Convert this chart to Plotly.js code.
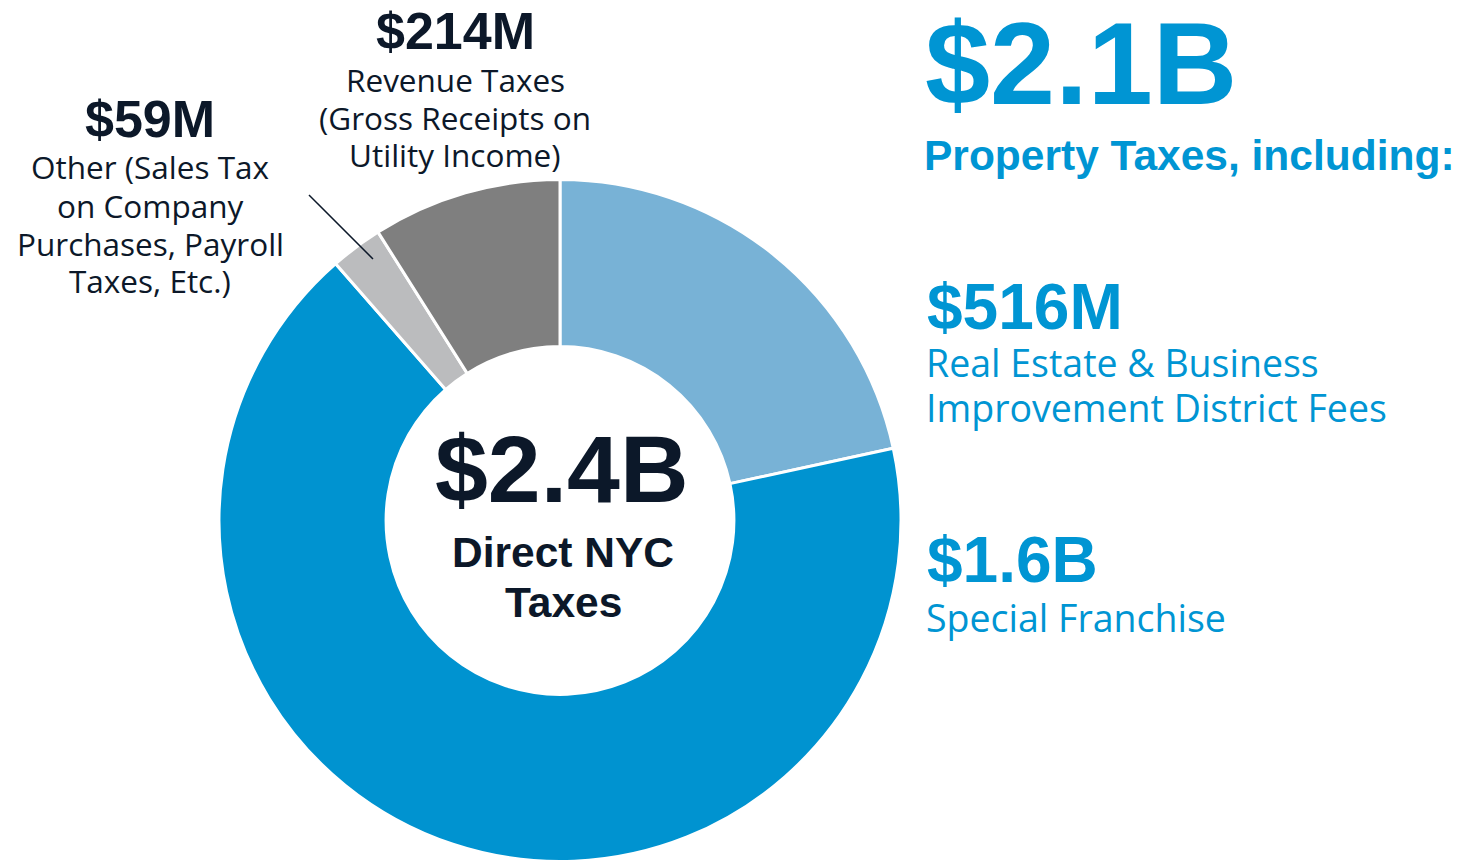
<!DOCTYPE html>
<html>
<head>
<meta charset="utf-8">
<script src="https://cdn.plot.ly/plotly-3.0.1.min.js"></script>
<style>html,body{margin:0;padding:0;background:#fff;}#chart{width:1474px;height:862px;}</style>
</head>
<body>
<div id="chart"></div>
<script>
// Data
const categories = ["Real Estate & Business Improvement District Fees", "Special Franchise", "Other (Sales Tax on Company Purchases, Payroll Taxes, Etc.)", "Revenue Taxes (Gross Receipts on Utility Income)"];
const valuesM = [516, 1600, 59, 214];
const valueLabels = ["$516M", "$1.6B", "$59M", "$214M"];
const sliceColors = ["#78b2d6", "#0093d0", "#bbbcbe", "#7f7f7f"];
const totalLabel = "$2.4B";
const totalCaption = ["Direct NYC", "Taxes"];
const propertyTotal = "$2.1B";
const propertyCaption = "Property Taxes, including:";
const descLabels = [
  ["Real Estate & Business", "Improvement District Fees"],
  ["Special Franchise"],
  ["Other (Sales Tax", "on Company", "Purchases, Payroll", "Taxes, Etc.)"],
  ["Revenue Taxes", "(Gross Receipts on", "Utility Income)"]
];

const W = 1474, H = 862;
const px = x => x / W;
const py = y => 1 - y / H;

const DARK = "#0c1829";
const BLUE = "#0095d3";
const BOLD = "'Liberation Sans', Arial, sans-serif";
const REG = "'Open Sans', 'Noto Sans', sans-serif";

const trace = {
  type: "pie",
  labels: categories,
  values: valuesM,
  sort: false,
  direction: "clockwise",
  rotation: 0,
  hole: 0.51,
  textinfo: "none",
  hoverinfo: "label+value",
  marker: { colors: sliceColors, line: { color: "#ffffff", width: 3 } },
  domain: { x: [px(219), px(901)], y: [py(861.5), py(179.5)] },
  showlegend: false
};

function ann(text, x, y, size, color, family, anchor, bold) {
  return {
    text: bold ? "<b>" + text + "</b>" : text,
    x: px(x), y: py(y), xref: "paper", yref: "paper",
    xanchor: anchor, yanchor: "middle", showarrow: false,
    align: anchor === "left" ? "left" : "center",
    font: { size: size, color: color, family: family }
  };
}

function lines(arr, x, ys, size, color, anchor) {
  return arr.map((t, i) => ann(t, x, ys[i], size, color, REG, anchor, false));
}

const annotations = [
  ann(valueLabels[3], 455, 31.5, 52, DARK, BOLD, "center", true),
  ...lines(descLabels[3], 455, [79.5, 117.5, 154.5], 31.5, DARK, "center"),
  ann(valueLabels[2], 150, 119, 52, DARK, BOLD, "center", true),
  ...lines(descLabels[2], 150, [166.5, 205.5, 243.5, 280.5], 31.5, DARK, "center"),
  ann(totalLabel, 562, 469, 95, DARK, BOLD, "center", true),
  ann(totalCaption[0], 563, 552, 42.5, DARK, BOLD, "center", true),
  ann(totalCaption[1], 563, 602, 42.5, DARK, BOLD, "center", true),
  ann(propertyTotal, 923, 63, 117, BLUE, BOLD, "left", true),
  ann(propertyCaption, 922, 155, 42.5, BLUE, BOLD, "left", true),
  ann(valueLabels[0], 925, 307, 64, BLUE, BOLD, "left", true),
  ...lines(descLabels[0], 924, [362, 408], 37.5, BLUE, "left"),
  ann(valueLabels[1], 925, 560, 64, BLUE, BOLD, "left", true),
  ...lines(descLabels[1], 924, [617], 37.5, BLUE, "left")
];

const layout = {
  width: W, height: H,
  margin: { l: 0, r: 0, t: 0, b: 0 },
  paper_bgcolor: "#ffffff",
  plot_bgcolor: "#ffffff",
  annotations: annotations,
  shapes: [{
    type: "line", xref: "paper", yref: "paper",
    x0: px(309), y0: py(195), x1: px(373), y1: py(259),
    line: { color: DARK, width: 1.5 }
  }]
};

Plotly.newPlot("chart", [trace], layout, { displayModeBar: false, staticPlot: true });
</script>
</body>
</html>
